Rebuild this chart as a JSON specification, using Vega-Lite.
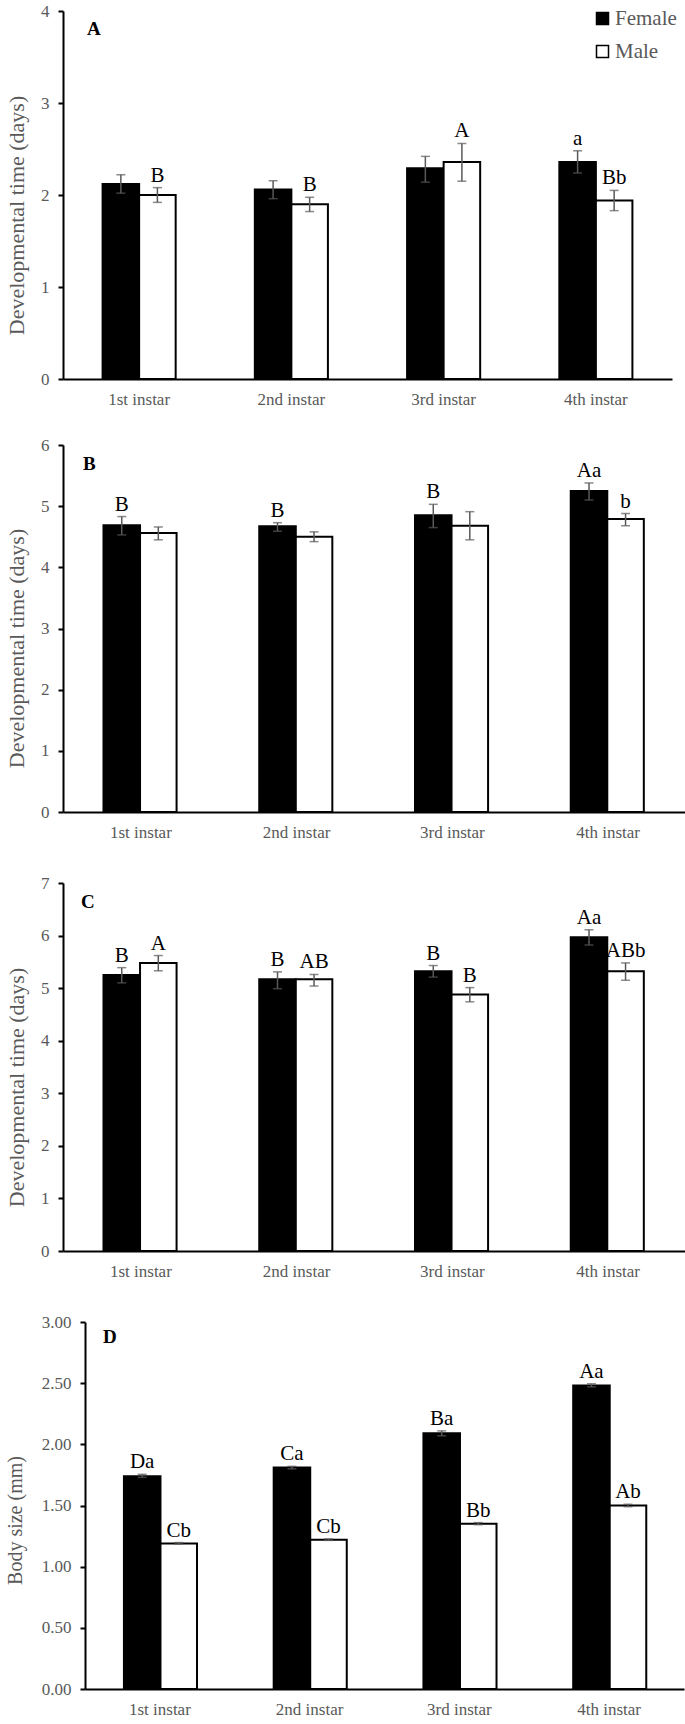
{
  "$schema": "https://vega.github.io/schema/vega-lite/v6.json",
  "padding": {"left": 3, "top": 2, "right": 0, "bottom": 0},
  "background": "white",
  "datasets": {
    "S": [{"k": 1}],
    "A": [
      {"instar": "1st instar", "sex": "Female", "value": 2.12, "lo": 2.02, "hi": 2.22, "label": ""},
      {"instar": "1st instar", "sex": "Male", "value": 2.00, "lo": 1.92, "hi": 2.08, "label": "B"},
      {"instar": "2nd instar", "sex": "Female", "value": 2.06, "lo": 1.96, "hi": 2.155, "label": ""},
      {"instar": "2nd instar", "sex": "Male", "value": 1.90, "lo": 1.82, "hi": 1.975, "label": "B"},
      {"instar": "3rd instar", "sex": "Female", "value": 2.29, "lo": 2.14, "hi": 2.42, "label": ""},
      {"instar": "3rd instar", "sex": "Male", "value": 2.36, "lo": 2.15, "hi": 2.56, "label": "A"},
      {"instar": "4th instar", "sex": "Female", "value": 2.36, "lo": 2.24, "hi": 2.48, "label": "a"},
      {"instar": "4th instar", "sex": "Male", "value": 1.94, "lo": 1.83, "hi": 2.05, "label": "Bb"}
    ],
    "B": [
      {"instar": "1st instar", "sex": "Female", "value": 4.69, "lo": 4.53, "hi": 4.83, "label": "B"},
      {"instar": "1st instar", "sex": "Male", "value": 4.56, "lo": 4.45, "hi": 4.66, "label": ""},
      {"instar": "2nd instar", "sex": "Female", "value": 4.67, "lo": 4.59, "hi": 4.73, "label": "B"},
      {"instar": "2nd instar", "sex": "Male", "value": 4.50, "lo": 4.42, "hi": 4.58, "label": ""},
      {"instar": "3rd instar", "sex": "Female", "value": 4.85, "lo": 4.65, "hi": 5.03, "label": "B"},
      {"instar": "3rd instar", "sex": "Male", "value": 4.68, "lo": 4.45, "hi": 4.91, "label": ""},
      {"instar": "4th instar", "sex": "Female", "value": 5.25, "lo": 5.10, "hi": 5.38, "label": "Aa"},
      {"instar": "4th instar", "sex": "Male", "value": 4.79, "lo": 4.68, "hi": 4.88, "label": "b"}
    ],
    "C": [
      {"instar": "1st instar", "sex": "Female", "value": 5.25, "lo": 5.10, "hi": 5.39, "label": "B"},
      {"instar": "1st instar", "sex": "Male", "value": 5.48, "lo": 5.33, "hi": 5.62, "label": "A"},
      {"instar": "2nd instar", "sex": "Female", "value": 5.17, "lo": 4.99, "hi": 5.31, "label": "B"},
      {"instar": "2nd instar", "sex": "Male", "value": 5.17, "lo": 5.04, "hi": 5.26, "label": "AB"},
      {"instar": "3rd instar", "sex": "Female", "value": 5.32, "lo": 5.21, "hi": 5.43, "label": "B"},
      {"instar": "3rd instar", "sex": "Male", "value": 4.88, "lo": 4.74, "hi": 5.01, "label": "B"},
      {"instar": "4th instar", "sex": "Female", "value": 5.97, "lo": 5.82, "hi": 6.11, "label": "Aa"},
      {"instar": "4th instar", "sex": "Male", "value": 5.32, "lo": 5.15, "hi": 5.48, "label": "ABb"}
    ],
    "D": [
      {"instar": "1st instar", "sex": "Female", "value": 1.74, "lo": 1.73, "hi": 1.755, "label": "Da"},
      {"instar": "1st instar", "sex": "Male", "value": 1.19, "lo": 1.185, "hi": 1.197, "label": "Cb"},
      {"instar": "2nd instar", "sex": "Female", "value": 1.81, "lo": 1.80, "hi": 1.82, "label": "Ca"},
      {"instar": "2nd instar", "sex": "Male", "value": 1.22, "lo": 1.215, "hi": 1.227, "label": "Cb"},
      {"instar": "3rd instar", "sex": "Female", "value": 2.09, "lo": 2.07, "hi": 2.11, "label": "Ba"},
      {"instar": "3rd instar", "sex": "Male", "value": 1.35, "lo": 1.343, "hi": 1.36, "label": "Bb"},
      {"instar": "4th instar", "sex": "Female", "value": 2.48, "lo": 2.47, "hi": 2.495, "label": "Aa"},
      {"instar": "4th instar", "sex": "Male", "value": 1.50, "lo": 1.49, "hi": 1.51, "label": "Ab"}
    ]
  },
  "config": {
    "view": {"stroke": null},
    "font": "Liberation Serif, serif",
    "axis": {"labelFont": "Liberation Serif, serif", "titleFont": "Liberation Serif, serif"},
    "axisY": {
      "domainColor": "black", "domainWidth": 2, "tickColor": "black", "tickWidth": 2, "tickSize": 5,
      "labelPadding": 9, "grid": false, "labelFont": "Liberation Serif, serif", "labelFontSize": 17, "labelColor": "#595959",
      "titleFont": "Liberation Serif, serif", "titleFontSize": 22, "titleColor": "#595959", "titleFontWeight": "normal", "titlePadding": 12
    },
    "axisX": {
      "domainColor": "black", "domainWidth": 2, "ticks": false, "tickSize": 0, "labelPadding": 12, "labelAngle": 0,
      "labelFont": "Liberation Serif, serif", "labelFontSize": 17, "labelColor": "#595959", "grid": false,
      "titleFontSize": 5, "titlePadding": 0
    },
    "legend": {"labelFont": "Liberation Serif, serif", "labelFontSize": 21, "labelColor": "#595959", "labelLimit": 300},
    "title": {"font": "Liberation Serif, serif", "fontSize": 19, "fontWeight": "bold", "color": "black", "anchor": "start", "frame": "group", "baseline": "alphabetic"}
  },
  "columns": 2,
  "spacing": {"row": 29, "column": 0},
  "align": "none",
  "bounds": "full",
  "resolve": {"scale": {"fill": "independent"}, "legend": {"fill": "independent"}},
  "concat": [
    {"width": 1, "height": 1, "data": {"name": "S"}, "mark": {"type": "rule", "opacity": 0}, "encoding": {}},
    {
      "width": 609, "height": 368,
      "data": {"name": "A"},
      "title": {"text": "A", "offset": -37, "dx": 24},
      "encoding": {
        "x": {"field": "instar", "type": "nominal", "sort": ["1st instar", "2nd instar", "3rd instar", "4th instar"], "scale": {"paddingInner": 0.52, "paddingOuter": 0.26}, "title": null},
        "xOffset": {"field": "sex", "type": "nominal", "sort": ["Female", "Male"], "scale": {"paddingInner": 0, "paddingOuter": 0}}
      },
      "layer": [
        {"mark": {"type": "bar", "stroke": "black", "strokeWidth": 2},
         "encoding": {
           "y": {"field": "value", "type": "quantitative", "scale": {"domain": [0, 4]}, "axis": {"values": [0, 1, 2, 3, 4], "format": "d", "titleY": 204}, "title": "Developmental time (days)"},
           "fill": {"field": "sex", "type": "nominal", "scale": {"domain": ["Female", "Male"], "range": ["black", "white"]},
             "legend": {"orient": "none", "legendX": 529, "legendY": -3, "title": null, "symbolType": "square", "symbolSize": 144, "symbolStrokeColor": "black", "symbolStrokeWidth": 1.5, "labelFont": "Liberation Serif, serif", "labelFontSize": 21, "labelColor": "#595959", "labelLimit": 300, "rowPadding": 11, "labelOffset": 2, "padding": 0}}
         }},
        {"mark": {"type": "rule", "color": "#595959", "strokeWidth": 1.5},
         "encoding": {"y": {"field": "lo", "type": "quantitative", "title": "Developmental time (days)"}, "y2": {"field": "hi"}}},
        {"mark": {"type": "tick", "orient": "horizontal", "size": 9, "thickness": 1.5, "color": "#595959"},
         "encoding": {"y": {"field": "lo", "type": "quantitative", "title": "Developmental time (days)"}}},
        {"mark": {"type": "tick", "orient": "horizontal", "size": 9, "thickness": 1.5, "color": "#595959"},
         "encoding": {"y": {"field": "hi", "type": "quantitative", "title": "Developmental time (days)"}}},
        {"mark": {"type": "text", "font": "Liberation Serif, serif", "fontSize": 21, "dy": -6, "baseline": "alphabetic", "color": "black"},
         "encoding": {"y": {"field": "hi", "type": "quantitative", "title": "Developmental time (days)"}, "text": {"field": "label"}}}
      ]
    },
    {"width": 1, "height": 1, "data": {"name": "S"}, "mark": {"type": "rule", "opacity": 0}, "encoding": {}},
    {
      "width": 623, "height": 367,
      "data": {"name": "B"},
      "title": {"text": "B", "offset": -38, "dx": 20},
      "encoding": {
        "x": {"field": "instar", "type": "nominal", "sort": ["1st instar", "2nd instar", "3rd instar", "4th instar"], "scale": {"paddingInner": 0.52, "paddingOuter": 0.26}, "title": " "},
        "xOffset": {"field": "sex", "type": "nominal", "sort": ["Female", "Male"], "scale": {"paddingInner": 0, "paddingOuter": 0}}
      },
      "layer": [
        {"mark": {"type": "bar", "stroke": "black", "strokeWidth": 2},
         "encoding": {
           "y": {"field": "value", "type": "quantitative", "scale": {"domain": [0, 6]}, "axis": {"values": [0, 1, 2, 3, 4, 5, 6], "format": "d", "titleY": 203}, "title": "Developmental time (days)"},
           "fill": {"field": "sex", "type": "nominal", "scale": {"domain": ["Female", "Male"], "range": ["black", "white"]}, "legend": null}
         }},
        {"mark": {"type": "rule", "color": "#595959", "strokeWidth": 1.5},
         "encoding": {"y": {"field": "lo", "type": "quantitative", "title": "Developmental time (days)"}, "y2": {"field": "hi"}}},
        {"mark": {"type": "tick", "orient": "horizontal", "size": 9, "thickness": 1.5, "color": "#595959"},
         "encoding": {"y": {"field": "lo", "type": "quantitative", "title": "Developmental time (days)"}}},
        {"mark": {"type": "tick", "orient": "horizontal", "size": 9, "thickness": 1.5, "color": "#595959"},
         "encoding": {"y": {"field": "hi", "type": "quantitative", "title": "Developmental time (days)"}}},
        {"mark": {"type": "text", "font": "Liberation Serif, serif", "fontSize": 21, "dy": -6, "baseline": "alphabetic", "color": "black"},
         "encoding": {"y": {"field": "hi", "type": "quantitative", "title": "Developmental time (days)"}, "text": {"field": "label"}}}
      ]
    },
    {"width": 1, "height": 1, "data": {"name": "S"}, "mark": {"type": "rule", "opacity": 0}, "encoding": {}},
    {
      "width": 623, "height": 368,
      "data": {"name": "C"},
      "title": {"text": "C", "offset": -38, "dx": 18},
      "encoding": {
        "x": {"field": "instar", "type": "nominal", "sort": ["1st instar", "2nd instar", "3rd instar", "4th instar"], "scale": {"paddingInner": 0.52, "paddingOuter": 0.26}, "title": " "},
        "xOffset": {"field": "sex", "type": "nominal", "sort": ["Female", "Male"], "scale": {"paddingInner": 0, "paddingOuter": 0}}
      },
      "layer": [
        {"mark": {"type": "bar", "stroke": "black", "strokeWidth": 2},
         "encoding": {
           "y": {"field": "value", "type": "quantitative", "scale": {"domain": [0, 7]}, "axis": {"values": [0, 1, 2, 3, 4, 5, 6, 7], "format": "d", "titleY": 204}, "title": "Developmental time (days)"},
           "fill": {"field": "sex", "type": "nominal", "scale": {"domain": ["Female", "Male"], "range": ["black", "white"]}, "legend": null}
         }},
        {"mark": {"type": "rule", "color": "#595959", "strokeWidth": 1.5},
         "encoding": {"y": {"field": "lo", "type": "quantitative", "title": "Developmental time (days)"}, "y2": {"field": "hi"}}},
        {"mark": {"type": "tick", "orient": "horizontal", "size": 9, "thickness": 1.5, "color": "#595959"},
         "encoding": {"y": {"field": "lo", "type": "quantitative", "title": "Developmental time (days)"}}},
        {"mark": {"type": "tick", "orient": "horizontal", "size": 9, "thickness": 1.5, "color": "#595959"},
         "encoding": {"y": {"field": "hi", "type": "quantitative", "title": "Developmental time (days)"}}},
        {"mark": {"type": "text", "font": "Liberation Serif, serif", "fontSize": 21, "dy": -6, "baseline": "alphabetic", "color": "black"},
         "encoding": {"y": {"field": "hi", "type": "quantitative", "title": "Developmental time (days)"}, "text": {"field": "label"}}}
      ]
    },
    {"width": 1, "height": 1, "data": {"name": "S"}, "mark": {"type": "rule", "opacity": 0}, "encoding": {}},
    {
      "width": 599, "height": 367,
      "data": {"name": "D"},
      "title": {"text": "D", "offset": -34, "dx": 18},
      "encoding": {
        "x": {"field": "instar", "type": "nominal", "sort": ["1st instar", "2nd instar", "3rd instar", "4th instar"], "scale": {"paddingInner": 0.52, "paddingOuter": 0.26}, "title": null},
        "xOffset": {"field": "sex", "type": "nominal", "sort": ["Female", "Male"], "scale": {"paddingInner": 0, "paddingOuter": 0}}
      },
      "layer": [
        {"mark": {"type": "bar", "stroke": "black", "strokeWidth": 2},
         "encoding": {
           "y": {"field": "value", "type": "quantitative", "scale": {"domain": [0, 3]}, "axis": {"values": [0, 0.5, 1, 1.5, 2, 2.5, 3], "format": ".2f", "titlePadding": 16, "titleFontSize": 20, "titleY": 198}, "title": "Body size (mm)"},
           "fill": {"field": "sex", "type": "nominal", "scale": {"domain": ["Female", "Male"], "range": ["black", "white"]}, "legend": null}
         }},
        {"mark": {"type": "rule", "color": "#595959", "strokeWidth": 1.5},
         "encoding": {"y": {"field": "lo", "type": "quantitative", "title": "Body size (mm)"}, "y2": {"field": "hi"}}},
        {"mark": {"type": "tick", "orient": "horizontal", "size": 9, "thickness": 1.5, "color": "#595959"},
         "encoding": {"y": {"field": "lo", "type": "quantitative", "title": "Body size (mm)"}}},
        {"mark": {"type": "tick", "orient": "horizontal", "size": 9, "thickness": 1.5, "color": "#595959"},
         "encoding": {"y": {"field": "hi", "type": "quantitative", "title": "Body size (mm)"}}},
        {"mark": {"type": "text", "font": "Liberation Serif, serif", "fontSize": 21, "dy": -6, "baseline": "alphabetic", "color": "black"},
         "encoding": {"y": {"field": "hi", "type": "quantitative", "title": "Body size (mm)"}, "text": {"field": "label"}}}
      ]
    }
  ]
}
